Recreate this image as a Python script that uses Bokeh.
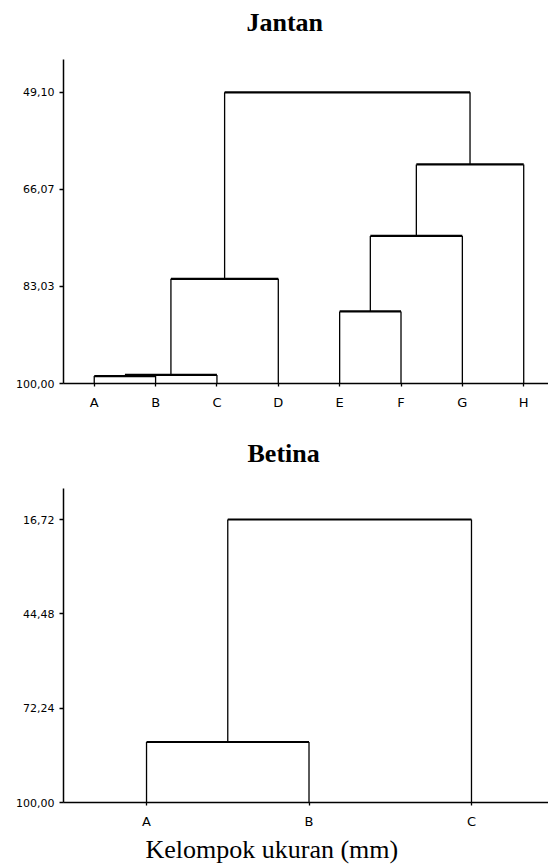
from bokeh.plotting import figure
from bokeh.layouts import column
from bokeh.models import Range1d, FixedTicker, ColumnDataSource, Title
from bokeh.embed import file_html
from bokeh.resources import INLINE

# ---------------- data ----------------
jantan_leaves = ["A", "B", "C", "D", "E", "F", "G", "H"]
# merges: leaves are 0..7, merged clusters get new indices 8, 9, ...
jantan_pairs = [(0, 1), (8, 2), (9, 3), (4, 5), (11, 6), (12, 7), (10, 13)]
jantan_heights = [98.7, 98.5, 81.7, 87.4, 74.2, 61.7, 49.10]
jantan_ticks = [49.10, 66.07, 83.03, 100.00]
jantan_tick_labels = ["49,10", "66,07", "83,03", "100,00"]
jantan_axis_top = 43.35

betina_leaves = ["A", "B", "C"]
betina_pairs = [(0, 1), (3, 2)]
betina_heights = [82.2, 16.72]
betina_ticks = [16.72, 44.48, 72.24, 100.00]
betina_tick_labels = ["16,72", "44,48", "72,24", "100,00"]
betina_axis_top = 7.6

x_title = "Kelompok ukuran (mm)"


def dendro(n_leaves, pairs, heights, base=100.0):
    xs = list(range(n_leaves))
    hs = [base] * n_leaves
    hor = dict(x0=[], y0=[], x1=[], y1=[])
    ver = dict(x0=[], y0=[], x1=[], y1=[])
    for (a, b), h in zip(pairs, heights):
        hor["x0"].append(xs[a]); hor["y0"].append(h)
        hor["x1"].append(xs[b]); hor["y1"].append(h)
        for c in (a, b):
            ver["x0"].append(xs[c]); ver["y0"].append(hs[c])
            ver["x1"].append(xs[c]); ver["y1"].append(h)
        xs.append((xs[a] + xs[b]) / 2.0)
        hs.append(h)
    return hor, ver


def make_fig(title, leaves, pairs, heights, ticks, tick_labels, axis_top, xr, yr,
             height, mb_top, mb_bottom, mb_left, title_offset, title_standoff):
    p = figure(width=548, height=height, output_backend="svg", toolbar_location=None,
               x_range=Range1d(*xr), y_range=Range1d(*yr),
               min_border_left=mb_left, min_border_right=0,
               min_border_top=mb_top, min_border_bottom=mb_bottom)
    p.title.text = title
    p.title.text_font = "Liberation Serif"
    p.title.text_font_size = "26px"
    p.title.text_font_style = "bold"
    p.title.align = "left"
    p.title.offset = title_offset
    p.title.standoff = title_standoff
    p.title.text_color = "black"
    p.outline_line_color = None
    p.grid.visible = False
    p.background_fill_color = "white"
    p.border_fill_color = "white"

    hor, ver = dendro(len(leaves), pairs, heights)
    p.segment(x0="x0", y0="y0", x1="x1", y1="y1", source=ColumnDataSource(ver),
              line_color="black", line_width=1.3)
    p.segment(x0="x0", y0="y0", x1="x1", y1="y1", source=ColumnDataSource(hor),
              line_color="black", line_width=2.2)

    p.xaxis.ticker = FixedTicker(ticks=list(range(len(leaves))))
    p.xaxis.major_label_overrides = {i: s for i, s in enumerate(leaves)}
    p.yaxis.ticker = FixedTicker(ticks=ticks)
    p.yaxis.major_label_overrides = {t: s for t, s in zip(ticks, tick_labels)}
    p.yaxis.bounds = (axis_top, 100.0)
    for ax in (p.xaxis, p.yaxis):
        ax.axis_line_color = "black"
        ax.axis_line_width = 1.5
        ax.major_tick_line_color = "black"
        ax.major_tick_line_width = 1.3
        ax.major_tick_in = 0
        ax.minor_tick_line_color = None
        ax.major_label_text_font = "DejaVu Sans"
        ax.major_label_text_color = "black"
    p.xaxis.major_tick_out = 3
    p.yaxis.major_tick_out = 4
    p.xaxis.major_label_text_font_size = "13px"
    p.yaxis.major_label_text_font_size = "11px"
    p.xaxis.major_label_standoff = 8
    p.yaxis.major_label_standoff = 5
    return p


p1 = make_fig("Jantan", jantan_leaves, jantan_pairs, jantan_heights,
              jantan_ticks, jantan_tick_labels, jantan_axis_top,
              xr=(-0.501, 7.404), yr=(100, 40.04),
              height=412, mb_top=40, mb_bottom=28, mb_left=59,
              title_offset=183, title_standoff=7)

p2 = make_fig("Betina", betina_leaves, betina_pairs, betina_heights,
              betina_ticks, betina_tick_labels, betina_axis_top,
              xr=(-0.511, 2.474), yr=(100, 2.59),
              height=455, mb_top=59, mb_bottom=65, mb_left=63,
              title_offset=184, title_standoff=8)

xt = Title(text=x_title, align="left", text_font="Liberation Serif",
           text_font_size="26px", text_font_style="normal", offset=82,
           standoff=3, text_color="black")
p2.add_layout(xt, "below")

layout = column(p1, p2, spacing=0)
open("out.html", "w").write(file_html(layout, INLINE))
